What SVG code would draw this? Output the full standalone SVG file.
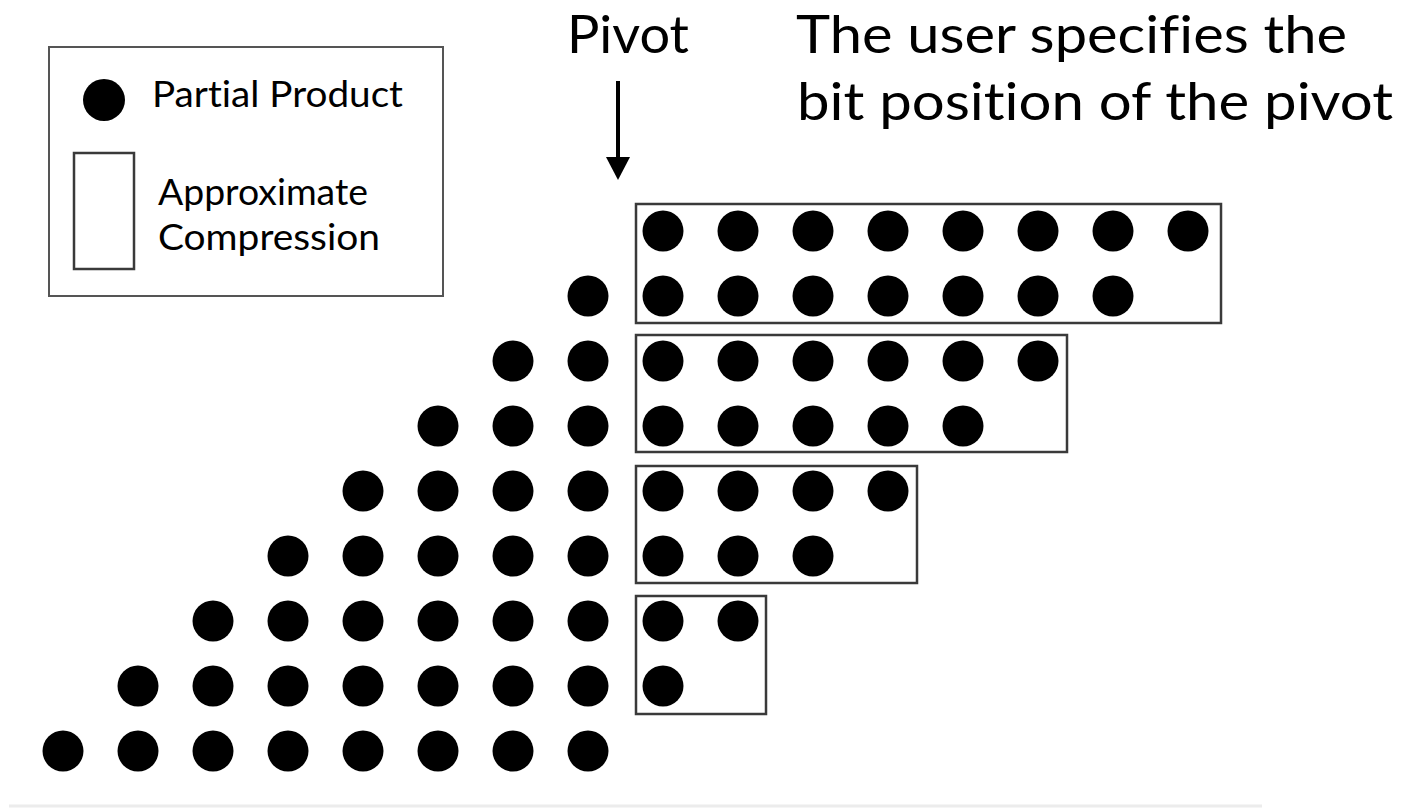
<svg xmlns="http://www.w3.org/2000/svg" width="1414" height="809" viewBox="0 0 1414 809">
  <defs>
    <style>
      .pp { fill: #000; }
      .frame { fill: none; stroke: #3a3a3a; stroke-width: 2.5; }
      .legend-frame { fill: #fff; stroke: #555; stroke-width: 2; }
      .lbl { font-family: Lato, "Open Sans", "Liberation Sans", sans-serif; fill: #000; font-variant-ligatures: none; font-feature-settings: "liga" 0, "dlig" 0; }
      .small { font-size: 36px; }
      .big { font-size: 53px; }
      .wire { stroke: #000; stroke-width: 4; fill: none; }
    </style>
    <circle id="dot" r="20.5" class="pp"/>
    <marker id="head" markerUnits="userSpaceOnUse" markerWidth="24" markerHeight="26" refX="0" refY="12" orient="auto" overflow="visible">
      <path d="M0,0 L23,12 L0,24 Z" fill="#000"/>
    </marker>
  </defs>

  <rect width="1414" height="809" fill="#fff"/>

  <!-- legend -->
  <g id="legend">
    <rect class="legend-frame" x="49" y="47" width="394" height="249"/>
    <circle cx="104" cy="100" r="21" class="pp"/>
    <text class="lbl small" x="152" y="107" textLength="251" lengthAdjust="spacingAndGlyphs">Partial Product</text>
    <rect class="frame" x="74" y="153" width="60" height="116" stroke-width="2"/>
    <text class="lbl small" x="158" y="205" textLength="210" lengthAdjust="spacingAndGlyphs">Approximate</text>
    <text class="lbl small" x="158" y="250" textLength="222" lengthAdjust="spacingAndGlyphs">Compression</text>
  </g>

  <!-- heading labels -->
  <g id="pivot-label">
    <text class="lbl big" x="567" y="53" textLength="122" lengthAdjust="spacingAndGlyphs">Pivot</text>
  </g>
  <g id="note">
    <text class="lbl big" x="796" y="53" textLength="551" lengthAdjust="spacingAndGlyphs">The user specifies the</text>
    <text class="lbl big" x="797" y="120" textLength="596" lengthAdjust="spacingAndGlyphs">bit position of the pivot</text>
  </g>

  <!-- pivot arrow -->
  <g id="connectors">
    <path class="wire" d="M618,81 L618,157" marker-end="url(#head)"/>
  </g>

  <!-- approximate compression groups -->
  <g id="group-1"><rect class="frame" x="636" y="204" width="585" height="119"/></g>
  <g id="group-2"><rect class="frame" x="636" y="335" width="431" height="117"/></g>
  <g id="group-3"><rect class="frame" x="636" y="466" width="281" height="117"/></g>
  <g id="group-4"><rect class="frame" x="636" y="596" width="130" height="118"/></g>

  <!-- partial product rows: columns at x = 63 + 75k, rows at y = 231 + 65r -->
  <g id="row-0">
    <use href="#dot" x="663" y="231"/><use href="#dot" x="738" y="231"/><use href="#dot" x="813" y="231"/><use href="#dot" x="888" y="231"/>
    <use href="#dot" x="963" y="231"/><use href="#dot" x="1038" y="231"/><use href="#dot" x="1113" y="231"/><use href="#dot" x="1188" y="231"/>
  </g>
  <g id="row-1">
    <use href="#dot" x="588" y="296"/><use href="#dot" x="663" y="296"/><use href="#dot" x="738" y="296"/><use href="#dot" x="813" y="296"/>
    <use href="#dot" x="888" y="296"/><use href="#dot" x="963" y="296"/><use href="#dot" x="1038" y="296"/><use href="#dot" x="1113" y="296"/>
  </g>
  <g id="row-2">
    <use href="#dot" x="513" y="361"/><use href="#dot" x="588" y="361"/><use href="#dot" x="663" y="361"/><use href="#dot" x="738" y="361"/>
    <use href="#dot" x="813" y="361"/><use href="#dot" x="888" y="361"/><use href="#dot" x="963" y="361"/><use href="#dot" x="1038" y="361"/>
  </g>
  <g id="row-3">
    <use href="#dot" x="438" y="426"/><use href="#dot" x="513" y="426"/><use href="#dot" x="588" y="426"/><use href="#dot" x="663" y="426"/>
    <use href="#dot" x="738" y="426"/><use href="#dot" x="813" y="426"/><use href="#dot" x="888" y="426"/><use href="#dot" x="963" y="426"/>
  </g>
  <g id="row-4">
    <use href="#dot" x="363" y="491"/><use href="#dot" x="438" y="491"/><use href="#dot" x="513" y="491"/><use href="#dot" x="588" y="491"/>
    <use href="#dot" x="663" y="491"/><use href="#dot" x="738" y="491"/><use href="#dot" x="813" y="491"/><use href="#dot" x="888" y="491"/>
  </g>
  <g id="row-5">
    <use href="#dot" x="288" y="556"/><use href="#dot" x="363" y="556"/><use href="#dot" x="438" y="556"/><use href="#dot" x="513" y="556"/>
    <use href="#dot" x="588" y="556"/><use href="#dot" x="663" y="556"/><use href="#dot" x="738" y="556"/><use href="#dot" x="813" y="556"/>
  </g>
  <g id="row-6">
    <use href="#dot" x="213" y="621"/><use href="#dot" x="288" y="621"/><use href="#dot" x="363" y="621"/><use href="#dot" x="438" y="621"/>
    <use href="#dot" x="513" y="621"/><use href="#dot" x="588" y="621"/><use href="#dot" x="663" y="621"/><use href="#dot" x="738" y="621"/>
  </g>
  <g id="row-7">
    <use href="#dot" x="138" y="686"/><use href="#dot" x="213" y="686"/><use href="#dot" x="288" y="686"/><use href="#dot" x="363" y="686"/>
    <use href="#dot" x="438" y="686"/><use href="#dot" x="513" y="686"/><use href="#dot" x="588" y="686"/><use href="#dot" x="663" y="686"/>
  </g>
  <g id="row-8">
    <use href="#dot" x="63" y="751"/><use href="#dot" x="138" y="751"/><use href="#dot" x="213" y="751"/><use href="#dot" x="288" y="751"/>
    <use href="#dot" x="363" y="751"/><use href="#dot" x="438" y="751"/><use href="#dot" x="513" y="751"/><use href="#dot" x="588" y="751"/>
  </g>

  <!-- faint rule along the bottom -->
  <line x1="9" y1="806" x2="1262" y2="806" stroke="#ececec" stroke-width="3"/>
</svg>
